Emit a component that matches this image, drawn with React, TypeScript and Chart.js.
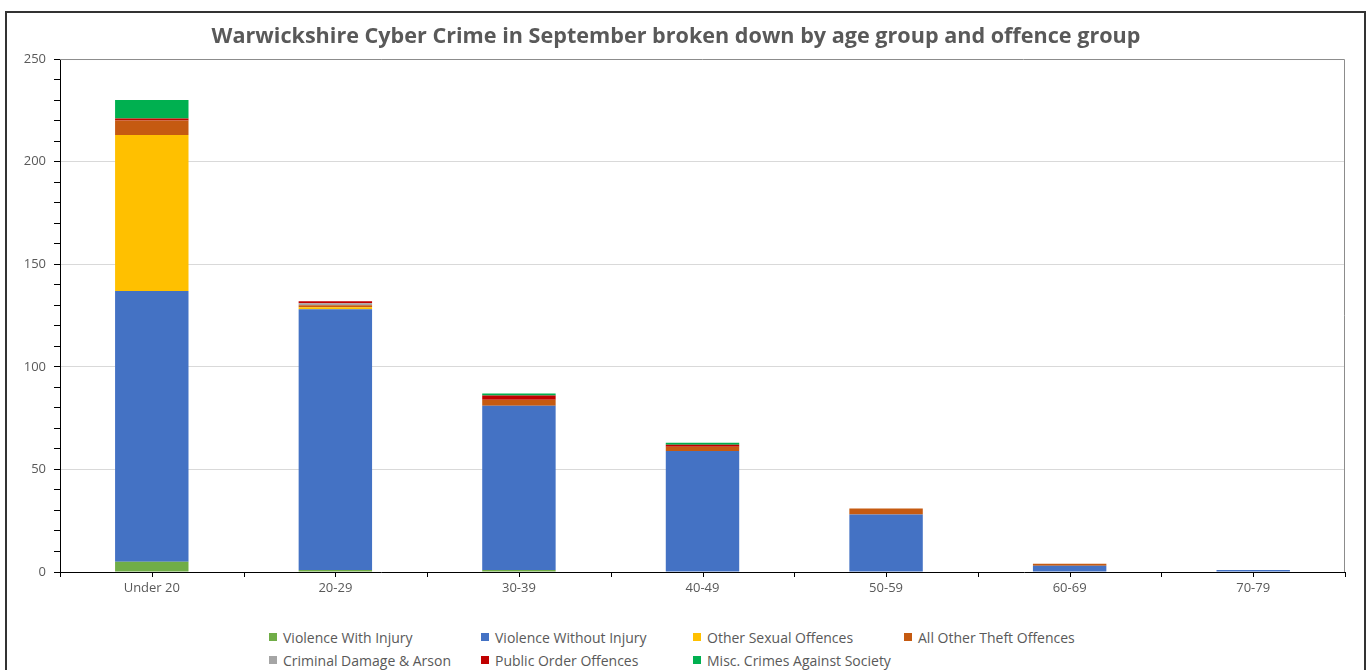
import React, { useEffect, useRef } from "react";
import { Chart, registerables } from "chart.js";

Chart.register(...registerables);

const categories = ["Under 20", "20-29", "30-39", "40-49", "50-59", "60-69", "70-79"];
const violenceWithInjury = [5, 1, 1, 0, 0, 0, 0];
const violenceWithoutInjury = [132, 127, 80, 59, 28, 3, 1];
const otherSexualOffences = [76, 1, 0, 0, 0, 0, 0];
const allOtherTheftOffences = [7, 1, 3, 2, 3, 1, 0];
const criminalDamageArson = [0, 1, 0, 0, 0, 0, 0];
const publicOrderOffences = [1, 1, 2, 1, 0, 0, 0];
const miscCrimesAgainstSociety = [9, 0, 1, 1, 0, 0, 0];

const seriesNames = [
  "Violence With Injury",
  "Violence Without Injury",
  "Other Sexual Offences",
  "All Other Theft Offences",
  "Criminal Damage & Arson",
  "Public Order Offences",
  "Misc. Crimes Against Society",
];
const seriesData = [
  violenceWithInjury,
  violenceWithoutInjury,
  otherSexualOffences,
  allOtherTheftOffences,
  criminalDamageArson,
  publicOrderOffences,
  miscCrimesAgainstSociety,
];
const seriesColors = ["#70AD47", "#4472C4", "#FFC000", "#C55A11", "#A5A5A5", "#C00000", "#00B050"];

const titleText = "Warwickshire Cyber Crime in September broken down by age group and offence group";
const FONT = "'Open Sans', 'Liberation Sans', sans-serif";

const decorPlugin = {
  id: "decor",
  afterDraw(chart: any) {
    const { ctx, chartArea } = chart;
    ctx.save();
    ctx.strokeStyle = "#8c8c8c";
    ctx.lineWidth = 1;
    ctx.beginPath();
    ctx.moveTo(chartArea.left, chartArea.top + 0.5);
    ctx.lineTo(chartArea.right - 0.5, chartArea.top + 0.5);
    ctx.lineTo(chartArea.right - 0.5, chartArea.bottom);
    ctx.stroke();
    ctx.strokeStyle = "#000";
    const n = categories.length;
    const step = (chartArea.right - chartArea.left) / n;
    for (let i = 0; i <= 2 * n; i++) {
      const px = Math.round(chartArea.left + (i * step) / 2) + 0.5;
      ctx.beginPath();
      ctx.moveTo(px, chartArea.bottom);
      ctx.lineTo(px, chartArea.bottom + 5);
      ctx.stroke();
    }
    ctx.restore();
  },
};

export default function App() {
  const ref = useRef<HTMLCanvasElement | null>(null);

  useEffect(() => {
    if (!ref.current) return;
    const chart = new Chart(ref.current, {
      type: "bar",
      data: {
        labels: categories,
        datasets: seriesNames.map((name, i) => ({
          label: name,
          data: seriesData[i],
          backgroundColor: seriesColors[i],
          borderWidth: 0,
          barPercentage: 0.4,
          categoryPercentage: 1,
        })),
      },
      options: {
        animation: false,
        responsive: false,
        maintainAspectRatio: false,
        layout: { padding: { left: 0, right: 19, top: 0, bottom: 0 } },
        plugins: {
          legend: { display: false },
          tooltip: { enabled: false },
          title: {
            display: true,
            text: titleText,
            color: "#595959",
            font: { family: FONT, size: 21.6, weight: "bold" },
            padding: { top: 11, bottom: 9.1 },
          },
        },
        scales: {
          x: {
            stacked: true,
            grid: { display: false, drawTicks: false },
            border: { display: true, color: "#000", width: 1 },
            ticks: { color: "#595959", font: { family: FONT, size: 13 }, padding: 8 },
            afterFit: (s: any) => {
              s.height = 31;
            },
          },
          y: {
            stacked: true,
            min: 0,
            max: 250,
            border: { display: true, color: "#000", width: 1 },
            grid: {
              drawTicks: true,
              tickLength: 6,
              tickColor: "#000",
              color: (c: any) =>
                c.tick && c.tick.value % 50 === 0 && c.tick.value !== 0 && c.tick.value !== 250
                  ? "#d9d9d9"
                  : "rgba(0,0,0,0)",
            },
            ticks: {
              stepSize: 10,
              autoSkip: false,
              color: "#595959",
              font: { family: FONT, size: 13 },
              padding: 8,
              callback: (v: any) => (Number(v) % 50 === 0 ? String(v) : ""),
            },
            afterFit: (s: any) => {
              s.width = 53;
            },
          },
        },
      },
      plugins: [decorPlugin],
    });
    return () => chart.destroy();
  }, []);

  const legendCols = [269, 481, 693, 904];
  const legendRows = [637, 660];

  return (
    <div
      style={{
        position: "fixed",
        left: 0,
        top: 0,
        width: 1370,
        height: 670,
        background: "#fff",
        overflow: "hidden",
        fontFamily: FONT,
      }}
    >
      <div
        style={{
          position: "absolute",
          left: 5,
          top: 11,
          width: 1357,
          height: 700,
          border: "2px solid #333",
        }}
      />
      <canvas
        ref={ref}
        width={1357}
        height={590}
        style={{ position: "absolute", left: 7, top: 13, width: 1357, height: 590 }}
      />
      {seriesNames.map((name, i) => {
        const col = i < 4 ? i : i - 4;
        const row = i < 4 ? 0 : 1;
        return (
          <div
            key={name}
            style={{
              position: "absolute",
              left: legendCols[col],
              top: legendRows[row] - 10,
              height: 20,
              display: "flex",
              alignItems: "center",
              whiteSpace: "nowrap",
              fontSize: 14,
              color: "#595959",
            }}
          >
            <span
              style={{
                display: "inline-block",
                width: 8,
                height: 8,
                background: seriesColors[i],
                marginRight: 6,
              }}
            />
            <span>{name}</span>
          </div>
        );
      })}
    </div>
  );
}
